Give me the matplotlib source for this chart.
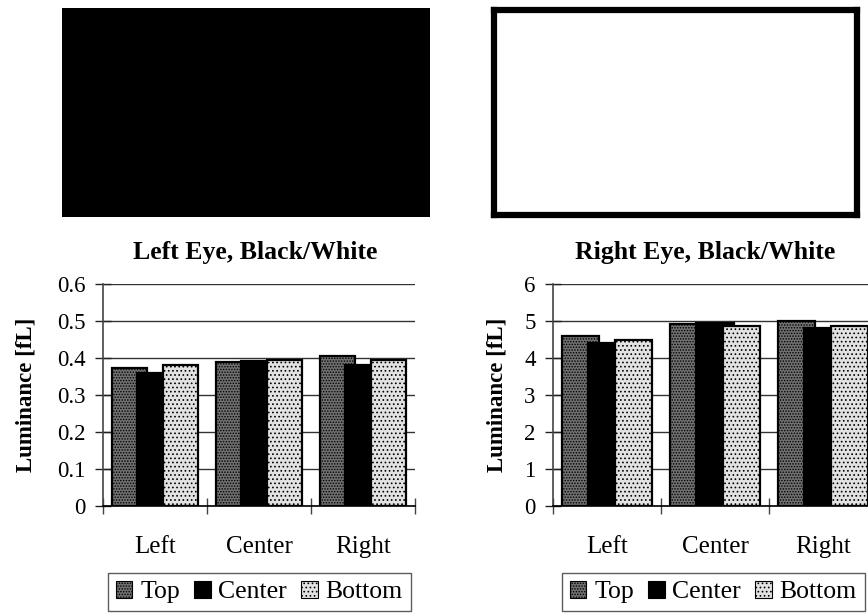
import matplotlib
matplotlib.use("Agg")
import matplotlib.pyplot as plt
import numpy as np
from matplotlib.ticker import FuncFormatter

plt.rcParams['font.family'] = ['Liberation Serif', 'DejaVu Serif']
plt.rcParams['hatch.linewidth'] = 0.7

categories = ["Left", "Center", "Right"]
series = ["Top", "Center", "Bottom"]
left_top = [0.373, 0.389, 0.406]
left_center = [0.359, 0.391, 0.381]
left_bottom = [0.380, 0.394, 0.394]
right_top = [4.59, 4.92, 4.99]
right_center = [4.40, 4.95, 4.82]
right_bottom = [4.49, 4.86, 4.87]
left_title = "Left Eye, Black/White"
right_title = "Right Eye, Black/White"
ylabel = "Luminance [fL]"

W, H = 868, 616
fig = plt.figure(figsize=(W / 100, H / 100), dpi=100)


def fx(px):
    return px / W


def fy(py):
    return 1 - py / H


# Top panels (stimulus images)
axb = fig.add_axes([fx(62), fy(217), fx(430 - 62), (217 - 8) / H])
axb.set_facecolor('black')
axb.set_xticks([]); axb.set_yticks([])
for s in axb.spines.values():
    s.set_visible(False)

axw = fig.add_axes([fx(494), fy(215), fx(857 - 494), (215 - 10) / H])
axw.set_facecolor('white')
axw.set_xticks([]); axw.set_yticks([])
for s in axw.spines.values():
    s.set_linewidth(4.5)
    s.set_color('black')

styles = [
    dict(color='#707070', hatch='......'),
    dict(color='black', hatch=None),
    dict(color='#e2e2e2', hatch='....'),
]


def draw_chart(rect, data, ymax, step, fmt, title, title_x, ylabel_x, legend_x):
    ax = fig.add_axes(rect)
    x = np.arange(len(categories))
    offsets = [-0.245, 0.0, 0.245]
    width = 0.345
    handles = []
    for vals, off, st, name in zip(data, offsets, styles, series):
        b = ax.bar(x + off, vals, width=width, facecolor=st['color'],
                   edgecolor='black', linewidth=1.6, hatch=st['hatch'],
                   label=name, zorder=3)
        handles.append(b)
    ax.set_xlim(-0.5, len(categories) - 0.5)
    ax.set_ylim(0, ymax)
    ax.set_yticks(np.arange(0, ymax + step / 2, step))
    ax.yaxis.set_major_formatter(FuncFormatter(fmt))
    ax.yaxis.grid(True, color='#333333', linewidth=1.0, zorder=0)
    ax.set_axisbelow(True)
    ax.set_xticks(x)
    ax.set_xticklabels(categories)
    ax.set_xticks(np.arange(-0.5, len(categories)), minor=True)
    ax.tick_params(axis='x', which='major', length=0, pad=22, labelsize=18)
    ax.tick_params(axis='x', which='minor', direction='inout', length=11,
                   width=1.0, color='#444444')
    ax.tick_params(axis='y', direction='inout', length=11, width=1.0,
                   pad=7, labelsize=16.5, color='#222222')
    for side in ['top', 'right']:
        ax.spines[side].set_visible(False)
    ax.spines['left'].set_color('#444444')
    ax.spines['left'].set_linewidth(1.2)
    ax.spines['bottom'].set_color('black')
    ax.spines['bottom'].set_linewidth(1.2)
    fig.text(fx(title_x), fy(253), title, ha='center', va='center',
             fontsize=18.5, fontweight='bold')
    fig.text(fx(ylabel_x), fy(395), ylabel, ha='center', va='center',
             rotation=90, fontsize=16.5, fontweight='bold')
    leg = fig.legend(handles=handles, labels=series, loc='upper left',
                     bbox_to_anchor=(fx(legend_x), fy(573)), ncol=3,
                     frameon=True, fancybox=False, shadow=False,
                     fontsize=18.5, handlelength=0.65, handleheight=0.65,
                     handletextpad=0.3, columnspacing=0.55,
                     borderpad=0.3, borderaxespad=0)
    leg.get_frame().set_edgecolor('#333333')
    leg.get_frame().set_linewidth(1.0)
    for p in leg.get_patches():
        p.set_linewidth(0.8)
    return ax


axes_bottom = fy(505.5)
axes_height = (505.5 - 284) / H

draw_chart([fx(103), axes_bottom, fx(415 - 103), axes_height],
           [left_top, left_center, left_bottom], 0.6, 0.1,
           lambda v, p: '0' if abs(v) < 1e-9 else f'{v:.1f}',
           left_title, 255, 26, 108)

draw_chart([fx(553), axes_bottom, fx(877 - 553), axes_height],
           [right_top, right_center, right_bottom], 6, 1,
           lambda v, p: f'{v:.0f}',
           right_title, 705, 497, 562)

fig.savefig('out.png', dpi=100)
